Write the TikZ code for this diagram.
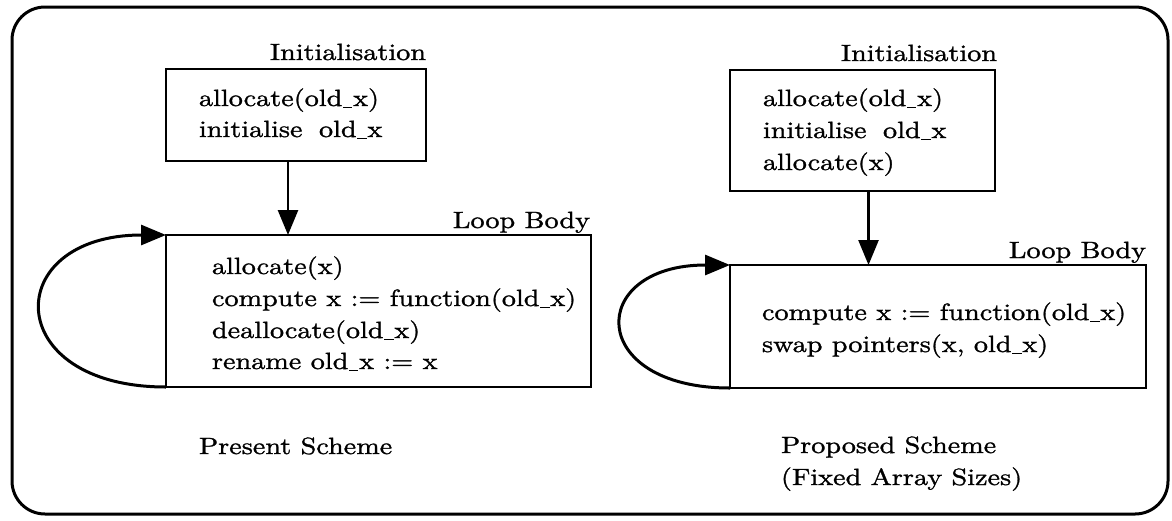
\documentclass[tikz,border=0pt]{standalone}
\usepackage{fontspec}
\setmainfont{lmroman10-regular.otf}[FakeStretch=1.2, FakeBold=1.2]
\usetikzlibrary{arrows.meta,fit}
% short underscore as used in the identifiers
\newcommand{\usc}{\kern0.03em\rule[-0.1em]{0.4em}{0.07em}\kern0.03em}

\begin{document}
\begin{tikzpicture}[x=1pt,y=-1pt,
  every node/.style={inner sep=0pt, outer sep=0pt},
  txt/.style={font=\fontsize{23.5}{31}\selectfont, anchor=base west},
  lbl/.style={font=\fontsize{23.5}{31}\selectfont, anchor=base east},
  box/.style={draw, line width=2.6pt},
  frame/.style={draw, line width=3pt, rounded corners=33pt},
  flow/.style={line width=2.6pt, -{Triangle[length=25pt,width=20pt]}},
  loopback/.style={line width=3pt, -{Triangle[length=25pt,width=20pt]}}]
\useasboundingbox (0,0) rectangle (1172,520);

% outer frame
\node[frame, fit={(12,7) (1168,514)}] (outer) {};

% ---------- present scheme ----------
\node[box, fit={(166,69) (426,161)}] (initA) {};
\node[lbl] (initAlbl) at (426,60) {Initialisation};
\node[txt] (initA1) at (199,106) {allocate(old\usc x)};
\node[txt] (initA2) at (199,137) {initialise\hspace{0.7em}old\usc x};

\node[box, fit={(166,235) (591,387)}] (loopA) {};
\node[lbl] (loopAlbl) at (590,228) {Loop Body};
\node[txt] (loopA1) at (212,274) {allocate(x)};
\node[txt] (loopA2) at (212,306) {compute x := function(old\usc x)};
\node[txt] (loopA3) at (212,338) {deallocate(old\usc x)};
\node[txt] (loopA4) at (212,369) {rename old\usc x := x};

\node[txt] (nameA) at (199,454) {Present Scheme};

\draw[flow] ([xshift=-8pt]initA.south) -- ([xshift=-8pt]initA.south |- loopA.north);
\draw[loopback] (loopA.south west) to[out=180,in=180,looseness=2.8] (loopA.north west);

% ---------- proposed scheme ----------
\node[box, fit={(730,70) (995,191)}] (initB) {};
\node[lbl] (initBlbl) at (997,61) {Initialisation};
\node[txt] (initB1) at (763,106) {allocate(old\usc x)};
\node[txt] (initB2) at (763,138) {initialise\hspace{0.7em}old\usc x};
\node[txt] (initB3) at (763,170) {allocate(x)};

\node[box, fit={(730,265) (1146,388)}] (loopB) {};
\node[lbl] (loopBlbl) at (1146,258) {Loop Body};
\node[txt] (loopB1) at (762,320) {compute x := function(old\usc x)};
\node[txt] (loopB2) at (762,352) {swap pointers(x, old\usc x)};

\node[txt] (nameB1) at (781,453) {Proposed Scheme};
\node[txt] (nameB2) at (781,485) {(Fixed Array Sizes)};

\draw[flow] ([xshift=6pt]initB.south) -- ([xshift=6pt]initB.south |- loopB.north);
\draw[loopback] (loopB.south west) to[out=180,in=180,looseness=3.0] (loopB.north west);
\end{tikzpicture}
\end{document}
